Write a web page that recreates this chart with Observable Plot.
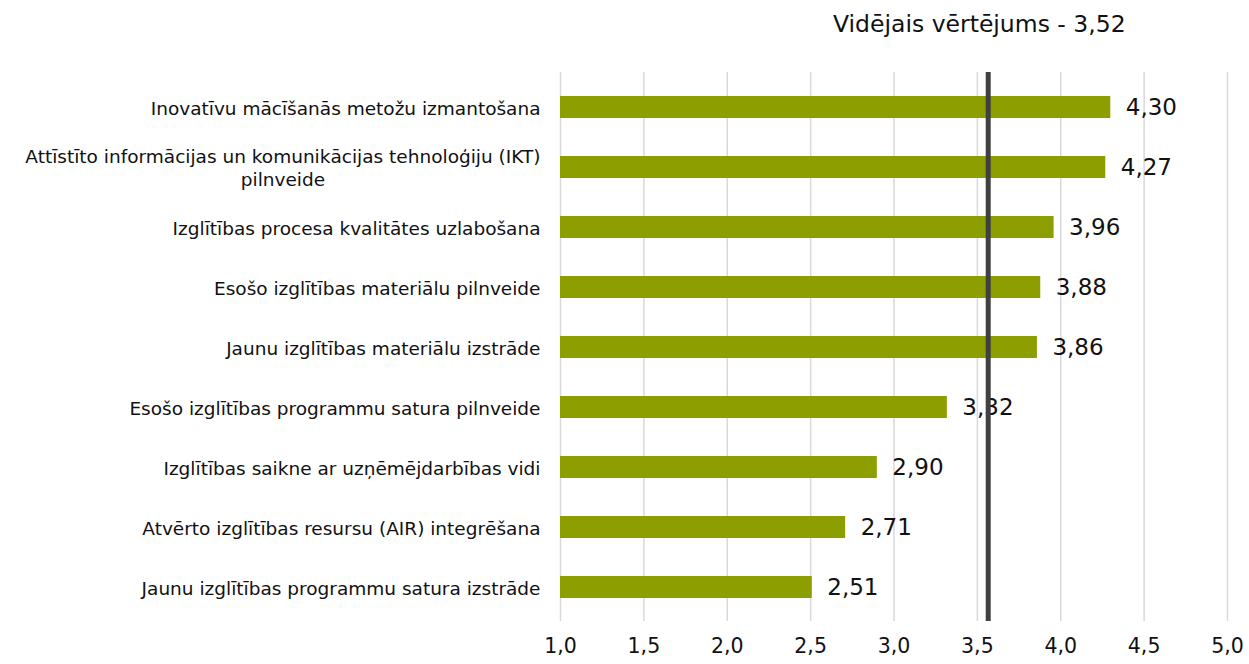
<!DOCTYPE html>
<html>
<head>
<meta charset="utf-8">
<script src="https://cdn.jsdelivr.net/npm/d3@7"></script>
<script src="https://cdn.jsdelivr.net/npm/@observablehq/plot@0.6"></script>
<style>
  body { margin: 0; background: #fff; }
  #wrap { position: relative; width: 1249px; height: 664px; font-family: "DejaVu Sans", sans-serif; }
  #title { position: absolute; top: 10px; left: 833px; font-size: 23.5px; color: #111; white-space: nowrap; }
</style>
</head>
<body>
<div id="wrap"><div id="title"></div><div id="chart"></div></div>
<script>
const categories = [
  "Inovatīvu mācīšanās metožu izmantošana",
  "Attīstīto informācijas un komunikācijas tehnoloģiju (IKT)\npilnveide",
  "Izglītības procesa kvalitātes uzlabošana",
  "Esošo izglītības materiālu pilnveide",
  "Jaunu izglītības materiālu izstrāde",
  "Esošo izglītības programmu satura pilnveide",
  "Izglītības saikne ar uzņēmējdarbības vidi",
  "Atvērto izglītības resursu (AIR) integrēšana",
  "Jaunu izglītības programmu satura izstrāde"
];
const values = [4.30, 4.27, 3.96, 3.88, 3.86, 3.32, 2.90, 2.71, 2.51];
const meanLabel = "Vidējais vērtējums - 3,52";
const meanLinePos = [3.565];
const xTicks = [1.0, 1.5, 2.0, 2.5, 3.0, 3.5, 4.0, 4.5, 5.0];

const data = categories.map((c, i) => ({category: c, value: values[i]}));
const fmt = v => v.toFixed(2).replace(".", ",");
const fmt1 = v => v.toFixed(1).replace(".", ",");

document.getElementById("title").textContent = meanLabel;

const chart = Plot.plot({
  width: 1249,
  height: 664,
  marginLeft: 560,
  marginRight: 22,
  marginTop: 72,
  marginBottom: 43,
  style: {fontFamily: "\"DejaVu Sans\", sans-serif", fontSize: "18px", color: "#111", background: "#fff"},
  x: {domain: [1, 5], ticks: xTicks, tickFormat: fmt1, label: null},
  y: {domain: categories, paddingInner: 0.64, paddingOuter: 0.323, label: null, axis: null},
  marks: [
    Plot.gridX(xTicks, {stroke: "#d9d9d9", strokeOpacity: 1, strokeWidth: 1.5}),
    Plot.axisX(xTicks, {tickSize: 0, tickPadding: 17, tickFormat: fmt1, fontSize: 20.5, fill: "#111"}),
    Plot.barX(data, {x1: 1, x2: "value", y: "category", fill: "#8d9e00"}),
    Plot.text(data, {x: 1, y: "category", text: "category", textAnchor: "end", dx: -20, fontSize: 18.5, fill: "#111", lineHeight: 1.25, className: "cat-label"}),
    Plot.text(data, {x: "value", y: "category", text: d => fmt(d.value), textAnchor: "start", dx: 15, fontSize: 23, fill: "#111"}),
    Plot.ruleX(meanLinePos, {stroke: "#404040", strokeWidth: 5})
  ]
});
document.getElementById("chart").appendChild(chart);

// center multi-line category labels like the original (lines centred on the widest one)
chart.querySelectorAll("g.cat-label text").forEach(t => {
  const spans = Array.from(t.querySelectorAll("tspan"));
  if (spans.length > 1) {
    const widths = spans.map(s => s.getComputedTextLength());
    const w = Math.max(...widths);
    spans.forEach((s, i) => s.setAttribute("x", (-(w - widths[i]) / 2).toString()));
  }
});
</script>
</body>
</html>
